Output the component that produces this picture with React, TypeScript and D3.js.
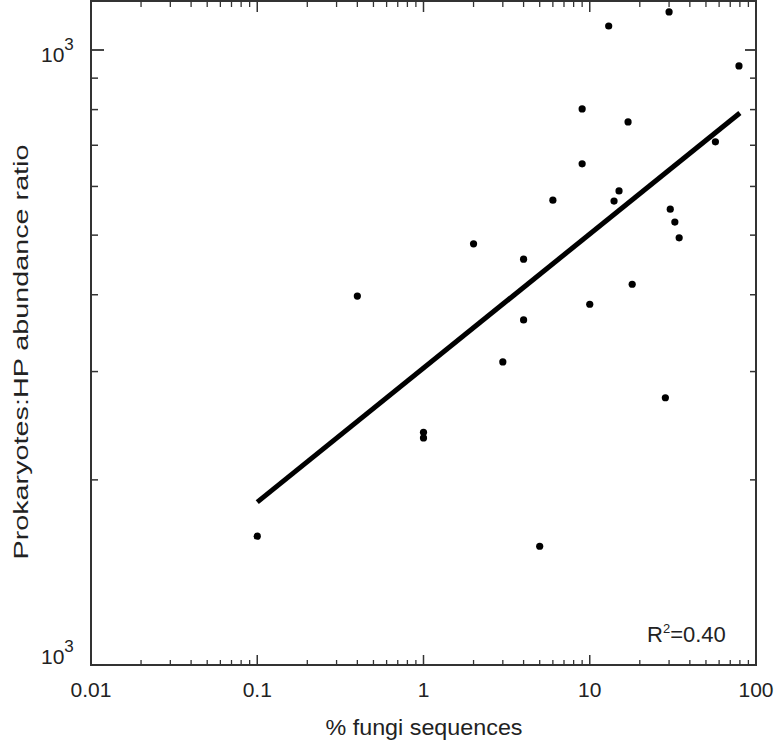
import React from "react";
import * as d3 from "d3";

const fungiPct = [0.1, 0.4, 1, 1, 2, 3, 4, 4, 5, 6, 9, 9, 10, 13, 14, 15, 17, 18, 30, 28.5, 30.5, 32.5, 34.5, 57, 79];
const ratio = [1620, 3980, 2390, 2340, 4840, 3110, 4570, 3640, 1560, 5700, 8020, 6530, 3860, 10940, 5680, 5900, 7640, 4160, 11530, 2720, 5510, 5250, 4950, 7090, 9420];
const fitX = [0.1, 80];
const fitY = [1840, 7900];
const xTickLabels = ["0.01", "0.1", "1", "10", "100"];
const xTickValues = [0.01, 0.1, 1, 10, 100];
const yLabelValues = [10000, 1000];
const rSquared = "0.40";

const W = 775, H = 741;
const L = 91, R = 756, T = 1, B = 665;

export default function App() {
  const x = d3.scaleLog().domain([0.01, 100]).range([L, R]);
  const y = d3.scaleLog().domain([1000, Math.pow(10, 4 + 49 / 615)]).range([B, T]);

  const xMinor: number[] = [];
  for (let e = -2; e < 2; e++) for (let k = 2; k <= 9; k++) xMinor.push(k * Math.pow(10, e));
  const yMinor: number[] = [];
  for (let k = 2; k <= 9; k++) yMinor.push(k * 1000);

  const line = d3.line<number>().x((_, i) => x(fitX[i])).y((_, i) => y(fitY[i]));
  const stroke = "#333";
  const font = "'Liberation Sans', Arial, Helvetica, sans-serif";

  return (
    <svg width={W} height={H} style={{ position: "absolute", left: 0, top: 0, background: "#fff" }} fontFamily={font}>
      <rect x={L} y={T} width={R - L} height={B - T} fill="none" stroke={stroke} strokeWidth={2} />
      {xMinor.map((v, i) => (
        <g key={"xm" + i}>
          <line x1={x(v)} x2={x(v)} y1={B} y2={B - 5} stroke={stroke} strokeWidth={1.3} />
          <line x1={x(v)} x2={x(v)} y1={T} y2={T + 6} stroke={stroke} strokeWidth={1.3} />
        </g>
      ))}
      {xTickValues.map((v, i) => (
        <g key={"xM" + i}>
          <line x1={x(v)} x2={x(v)} y1={B} y2={B - 10} stroke={stroke} strokeWidth={1.5} />
          <line x1={x(v)} x2={x(v)} y1={T} y2={T + 11} stroke={stroke} strokeWidth={1.5} />
          <text x={x(v)} y={697} fontSize={21} textAnchor="middle" fill="#222">{xTickLabels[i]}</text>
        </g>
      ))}
      {yMinor.map((v, i) => (
        <g key={"ym" + i}>
          <line x1={L} x2={L + 7} y1={y(v)} y2={y(v)} stroke={stroke} strokeWidth={1.5} />
          <line x1={R} x2={R - 6} y1={y(v)} y2={y(v)} stroke={stroke} strokeWidth={1.5} />
        </g>
      ))}
      {yLabelValues.map((v, i) => (
        <g key={"yM" + i}>
          <line x1={L} x2={L + 13} y1={y(v)} y2={y(v)} stroke={stroke} strokeWidth={1.8} />
          <line x1={R} x2={R - 11} y1={y(v)} y2={y(v)} stroke={stroke} strokeWidth={1.8} />
          <text x={41} y={i === 0 ? 62 : 664} fontSize={21} fill="#222">
            10<tspan dy={-12} fontSize={17}>3</tspan>
          </text>
        </g>
      ))}
      <path d={line(fitX) || ""} fill="none" stroke="#000" strokeWidth={5} />
      {fungiPct.map((v, i) => (
        <circle key={"p" + i} cx={x(v)} cy={y(ratio[i])} r={3.6} fill="#000" />
      ))}
      <text x={647} y={642} fontSize={22} fill="#222">
        R<tspan dy={-9} fontSize={13}>2</tspan><tspan dy={9}>={rSquared}</tspan>
      </text>
      <text x={424} y={735} fontSize={22} textAnchor="middle" fill="#222" textLength={197} lengthAdjust="spacingAndGlyphs">% fungi sequences</text>
      <text transform={`translate(28,352) rotate(-90)`} fontSize={21} textAnchor="middle" fill="#222" textLength={415} lengthAdjust="spacingAndGlyphs">
        Prokaryotes:HP abundance ratio
      </text>
    </svg>
  );
}
